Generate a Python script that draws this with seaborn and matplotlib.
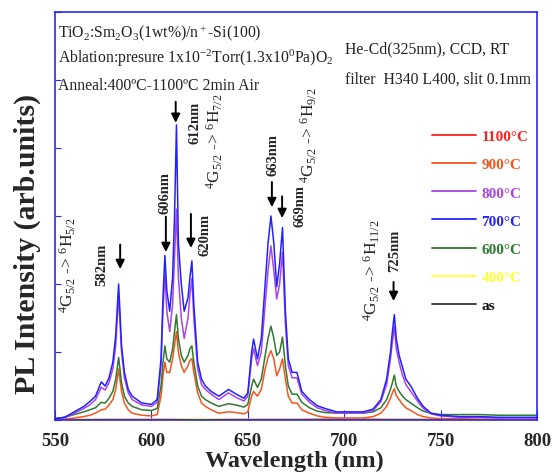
import matplotlib

matplotlib.use("Agg")

import matplotlib.pyplot as plt  # noqa: E402
import pandas as pd  # noqa: E402
import seaborn as sns  # noqa: E402
from matplotlib.lines import Line2D  # noqa: E402

# wavelength grid (nm)
wavelength = [550, 555, 560, 565, 568, 571, 574, 576, 578, 580, 581.5, 583, 584.5, 586, 588, 590,
              595, 600, 603, 605, 606, 607, 608, 609.5, 611, 612, 613, 614, 615.5, 617, 619, 620,
              621, 622, 624, 626, 628, 631, 635, 640, 644, 648, 650, 652, 653, 655, 657, 659,
              660.5, 662, 663.5, 665, 666.5, 668, 669.5, 671, 673, 675.5, 678, 682, 686, 690, 696,
              703, 710, 715, 719, 722, 724, 725, 726, 727, 728.5, 730, 732, 734.5, 738, 741, 745,
              750, 760, 770, 780, 790, 800]

pl_700 = [0.02, 0.04, 0.12, 0.20, 0.27, 0.35, 0.56, 0.50, 0.62, 0.85, 1.25, 2.00, 1.10, 0.70, 0.45, 0.35,
          0.25, 0.23, 0.30, 0.90, 1.80, 2.42, 1.90, 1.60, 2.10, 3.00, 4.34, 2.60, 2.00, 1.60, 1.80, 2.10,
          2.34, 1.70, 0.85, 0.60, 0.50, 0.42, 0.35, 0.45, 0.38, 0.32, 0.40, 1.00, 1.19, 0.90, 1.20, 2.00,
          2.60, 3.00, 2.60, 1.96, 2.30, 2.83, 1.60, 0.90, 0.70, 0.70, 0.42, 0.30, 0.21, 0.17, 0.12,
          0.12, 0.12, 0.16, 0.30, 0.60, 1.00, 1.30, 1.55, 1.20, 0.95, 0.80, 0.60, 0.50, 0.32, 0.20, 0.10,
          0.07, 0.05, 0.05, 0.04, 0.04, 0.04]

pl_800 = [0.02, 0.03, 0.10, 0.17, 0.22, 0.30, 0.48, 0.44, 0.55, 0.75, 1.10, 1.85, 1.00, 0.62, 0.40, 0.30,
          0.22, 0.20, 0.26, 0.80, 1.60, 2.15, 1.60, 1.30, 1.70, 2.40, 3.10, 2.10, 1.50, 1.20, 1.50, 1.85,
          2.08, 1.50, 0.75, 0.52, 0.45, 0.38, 0.30, 0.40, 0.33, 0.28, 0.35, 0.90, 1.05, 0.80, 1.00, 1.70,
          2.20, 2.56, 2.20, 1.78, 2.00, 2.47, 1.40, 0.80, 0.62, 0.62, 0.38, 0.26, 0.18, 0.14, 0.10,
          0.10, 0.10, 0.14, 0.27, 0.52, 0.90, 1.15, 1.38, 1.05, 0.85, 0.68, 0.52, 0.42, 0.28, 0.17, 0.09,
          0.06, 0.04, 0.04, 0.03, 0.03, 0.03]

pl_600 = [0.02, 0.04, 0.08, 0.12, 0.15, 0.18, 0.26, 0.25, 0.32, 0.42, 0.60, 0.92, 0.55, 0.35, 0.25, 0.20,
          0.15, 0.14, 0.17, 0.50, 0.85, 1.09, 0.90, 0.85, 1.05, 1.30, 1.55, 1.20, 0.95, 0.85, 0.95, 1.05,
          1.09, 0.85, 0.50, 0.35, 0.30, 0.25, 0.20, 0.24, 0.22, 0.19, 0.23, 0.50, 0.60, 0.48, 0.60, 0.95,
          1.20, 1.38, 1.20, 0.95, 1.00, 1.22, 0.80, 0.50, 0.38, 0.38, 0.26, 0.18, 0.13, 0.11, 0.10,
          0.10, 0.10, 0.12, 0.18, 0.30, 0.45, 0.55, 0.66, 0.50, 0.42, 0.36, 0.30, 0.25, 0.18, 0.13, 0.10,
          0.08, 0.08, 0.08, 0.07, 0.07, 0.07]

pl_900 = [0.00, 0.01, 0.03, 0.05, 0.07, 0.10, 0.15, 0.16, 0.22, 0.30, 0.45, 0.75, 0.42, 0.25, 0.15, 0.10,
          0.07, 0.06, 0.08, 0.35, 0.65, 0.85, 0.70, 0.70, 0.90, 1.10, 1.30, 1.00, 0.80, 0.70, 0.80, 0.88,
          0.90, 0.70, 0.40, 0.25, 0.20, 0.15, 0.10, 0.12, 0.11, 0.09, 0.12, 0.35, 0.42, 0.35, 0.45, 0.75,
          0.92, 1.02, 0.90, 0.65, 0.75, 0.90, 0.60, 0.35, 0.25, 0.25, 0.15, 0.10, 0.06, 0.04, 0.03,
          0.03, 0.03, 0.05, 0.10, 0.20, 0.32, 0.40, 0.46, 0.36, 0.30, 0.24, 0.18, 0.14, 0.08, 0.05, 0.03,
          0.02, 0.02, 0.01, 0.01, 0.01, 0.01]

# samples that stay on the baseline
wavelength_low = [550, 575, 600, 625, 650, 675, 700, 725, 750, 775, 800]
pl_1100 = [0.01, 0.01, 0.01, 0.02, 0.01, 0.01, 0.02, 0.01, 0.01, 0.01, 0.01]
pl_400 = [0.02, 0.01, 0.01, 0.02, 0.01, 0.01, 0.01, 0.01, 0.01, 0.01, 0.01]
pl_as = [0.005, 0.005, 0.005, 0.005, 0.005, 0.005, 0.005, 0.005, 0.005, 0.005, 0.005]

legend_order = ["1100°C", "900°C", "800°C", "700°C", "600°C", "400°C", "as"]
draw_order = ["1100°C", "400°C", "as", "900°C", "600°C", "800°C", "700°C"]
palette = {
    "1100°C": "#ff2020",
    "900°C": "#f5561f",
    "800°C": "#a945e6",
    "700°C": "#2222ff",
    "600°C": "#2f7a30",
    "400°C": "#ffff33",
    "as": "#333333",
}

series = [
    ("1100°C", wavelength_low, pl_1100),
    ("900°C", wavelength, pl_900),
    ("800°C", wavelength, pl_800),
    ("700°C", wavelength, pl_700),
    ("600°C", wavelength, pl_600),
    ("400°C", wavelength_low, pl_400),
    ("as", wavelength_low, pl_as),
]
df = pd.concat(
    [pd.DataFrame({"wavelength": x, "intensity": y, "sample": name}) for name, x, y in series],
    ignore_index=True,
)

sns.set_style("ticks")
plt.rcParams["font.family"] = ["Liberation Serif", "DejaVu Serif"]
plt.rcParams["mathtext.fontset"] = "custom"
plt.rcParams["mathtext.rm"] = "Liberation Serif"
plt.rcParams["mathtext.it"] = "Liberation Serif:italic"
plt.rcParams["mathtext.bf"] = "Liberation Serif:bold"

spine_blue = "#2a2aee"

fig = plt.figure(figsize=(5.55, 4.77), dpi=100)
ax = fig.add_axes([55 / 555, 1 - 421 / 477, 482 / 555, 408 / 477])

sns.lineplot(
    data=df, x="wavelength", y="intensity", hue="sample",
    hue_order=draw_order, palette=palette, linewidth=1.1, legend=False, ax=ax,
)

ax.set_xlim(550, 800)
ax.set_ylim(0, 6)
ax.set_xticks(range(550, 801, 50))
ax.set_yticks(range(0, 7))
ax.set_yticklabels([])
for lab in ax.get_xticklabels():
    lab.set_fontweight("bold")
    lab.set_fontsize(13.5)
ax.tick_params(axis="x", direction="in", length=7, color=spine_blue, pad=9)
ax.tick_params(axis="y", direction="in", length=4, color=spine_blue)
for sp in ax.spines.values():
    sp.set_color(spine_blue)
    sp.set_linewidth(1.2)

ax.set_xlabel("Wavelength (nm)", fontsize=17.5, fontweight="bold")
ax.set_ylabel("PL Intensity (arb.units)", fontsize=21.5, fontweight="bold")
ax.xaxis.set_label_coords(0.497, -0.074)
ax.yaxis.set_label_coords(-0.03, 0.435)

# legend with coloured labels
handles = [Line2D([], [], color=palette[k], lw=1.3) for k in legend_order]
leg = ax.legend(
    handles, legend_order, loc="upper left", bbox_to_anchor=(0.782, 0.712),
    frameon=False, handlelength=2.9, handletextpad=0.35, labelspacing=0.95,
    borderpad=0, borderaxespad=0, prop={"weight": "bold", "size": 11},
)
for txt, k in zip(leg.get_texts(), legend_order):
    txt.set_color("#111111" if k == "as" else palette[k])

# header text
txt_kw = dict(transform=ax.transAxes, fontsize=11.3, color="#222222", va="baseline")
ax.text(0.006, 0.941, r"TiO$_2$:Sm$_2$O$_3$(1wt%)/n$^+$-Si(100)", **txt_kw)
ax.text(0.006, 0.877, r"Ablation:presure 1x10$^{-2}$Torr(1.3x10$^0$Pa)O$_2$", **txt_kw)
ax.text(0.006, 0.811, "Anneal:400ºC-1100ºC 2min Air", **txt_kw)
ax.text(0.602, 0.902, "He-Cd(325nm), CCD, RT", **txt_kw)
ax.text(0.602, 0.828, "filter  H340 L400, slit 0.1mm", **txt_kw)

# peak markers
arrow_kw = dict(arrowstyle="-|>", color="black", lw=1.4, mutation_scale=13, shrinkA=0, shrinkB=0)
arrows = [(583.8, 2.58, 2.22), (607.5, 2.99, 2.47), (612.6, 4.68, 4.37), (620.5, 3.03, 2.53),
          (662.5, 3.50, 3.13), (667.8, 3.29, 2.97), (725.6, 2.03, 1.75)]
for x, y0, y1 in arrows:
    ax.annotate("", xy=(x, y1), xytext=(x, y0), arrowprops=arrow_kw)

nm_kw = dict(rotation=90, ha="center", va="center", fontsize=10.5, fontweight="bold")
ax.text(574.4, 2.29, "582nm", **nm_kw)
ax.text(607.1, 3.35, "606nm", **nm_kw)
ax.text(622.7, 4.38, "612nm", **nm_kw)
ax.text(628.0, 2.74, "620nm", **nm_kw)
ax.text(663.2, 3.91, "663nm", **nm_kw)
ax.text(677.3, 3.16, "669nm", **nm_kw)
ax.text(726.0, 2.51, "725nm", **nm_kw)

tr_kw = dict(rotation=90, ha="center", va="center", fontsize=12.5)
ax.text(556.8, 2.29, r"$^4$G$_{5/2}$ -> $^6$H$_{5/2}$", **tr_kw)
ax.text(633.0, 4.12, r"$^4$G$_{5/2}$ -> $^6$H$_{7/2}$", **tr_kw)
ax.text(681.5, 4.2, r"$^4$G$_{5/2}$ -> $^6$H$_{9/2}$", **tr_kw)
ax.text(714.2, 2.22, r"$^4$G$_{5/2}$ -> $^6$H$_{11/2}$", **tr_kw)

fig.savefig("out.png", dpi=100)
